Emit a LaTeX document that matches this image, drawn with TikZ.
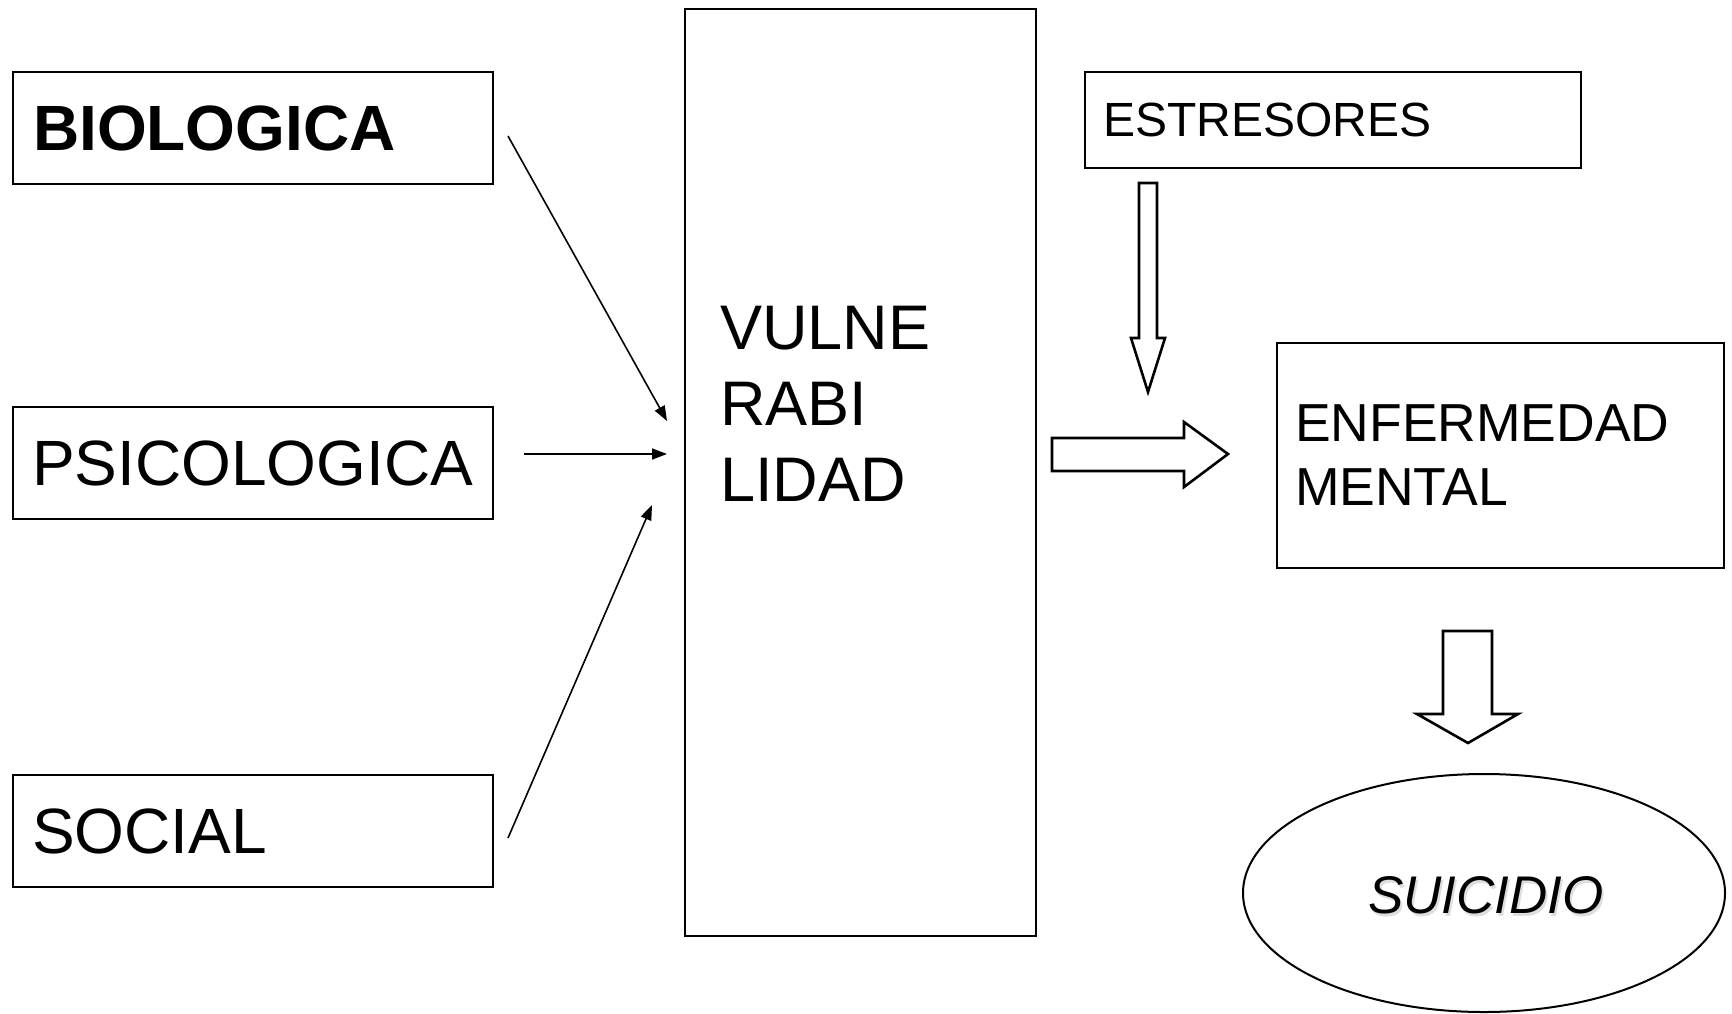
\documentclass[tikz,border=0pt]{standalone}
\usepackage{fontspec}
\setmainfont{Liberation Sans}
\usetikzlibrary{arrows.meta,shapes.geometric}

\tikzset{
  box/.style={draw=black, line width=2pt, rectangle, inner ysep=0pt, align=left, anchor=north west},
  thinarrow/.style={line width=1.6pt, -{Triangle[length=15pt,width=11pt]}},
  hollow/.style={draw=black, line width=2.6pt, fill=white, line join=miter},
}

\begin{document}
\begin{tikzpicture}[x=1pt,y=-1pt]
\useasboundingbox[fill=white] (0,0) rectangle (1732,1013);

% factor boxes on the left
\node[box, minimum height=112pt, text width=440pt, inner xsep=20pt,
      font=\fontsize{64}{76}\selectfont\bfseries] (bio) at (12,71) {BIOLOGICA};
\node[box, minimum height=112pt, text width=442pt, inner xsep=19pt,
      font=\fontsize{64}{76}\selectfont] (psi) at (12,406) {PSICOLOGICA};
\node[box, minimum height=112pt, text width=442pt, inner xsep=19pt,
      font=\fontsize{64}{76}\selectfont] (soc) at (12,774) {SOCIAL};

% central column
\node[draw=black, line width=2pt, rectangle, minimum width=351pt, minimum height=927pt,
      anchor=north west, inner sep=0pt] (vul) at (684,8) {};
\node[anchor=north west, inner sep=0pt, align=left,
      font=\fontsize{63}{76}\selectfont] (vultxt) at (720,306) {VULNE\\RABI\\LIDAD};

% right side
\node[box, minimum height=96pt, text width=460pt, inner xsep=18pt,
      font=\fontsize{48}{60}\selectfont] (est) at (1084,71) {ESTRESORES};
\node[box, minimum height=225pt, text width=411pt, inner xsep=18pt,
      font=\fontsize{53.5}{64}\selectfont] (enf) at (1276,342) {ENFERMEDAD\\MENTAL};

\node[draw=black, line width=2pt, ellipse, minimum width=482pt, minimum height=238pt,
      inner sep=0pt] (sui) at (1484,893) {};
\node[text=black!25, opacity=0.5, font=\fontsize{53}{64}\selectfont\itshape] (suish) at (1488,898) {SUICIDIO};
\node[font=\fontsize{53}{64}\selectfont\itshape] (suitxt) at (1486,895) {SUICIDIO};

% thin arrows into the central column
\coordinate (bioS) at (508,136);
\coordinate (bioE) at (667,421);
\coordinate (psiS) at (524,454);
\coordinate (psiE) at (667,454);
\coordinate (socS) at (508,838);
\coordinate (socE) at (652,505);
\draw[thinarrow] (bioS) -- (bioE);
\draw[thinarrow] (psiS) -- (psiE);
\draw[thinarrow] (socS) -- (socE);

% block arrows
\draw[hollow] (1139,183) -- (1157,183) -- (1157,338) -- (1165,338) -- (1148,392)
  -- (1131,338) -- (1139,338) -- cycle;
\draw[hollow] (1052,438) -- (1184,438) -- (1184,422) -- (1228,454) -- (1184,487)
  -- (1184,471) -- (1052,471) -- cycle;
\draw[hollow] (1443,631) -- (1492,631) -- (1492,714) -- (1518,714) -- (1468,743)
  -- (1417,714) -- (1443,714) -- cycle;
\end{tikzpicture}
\end{document}
